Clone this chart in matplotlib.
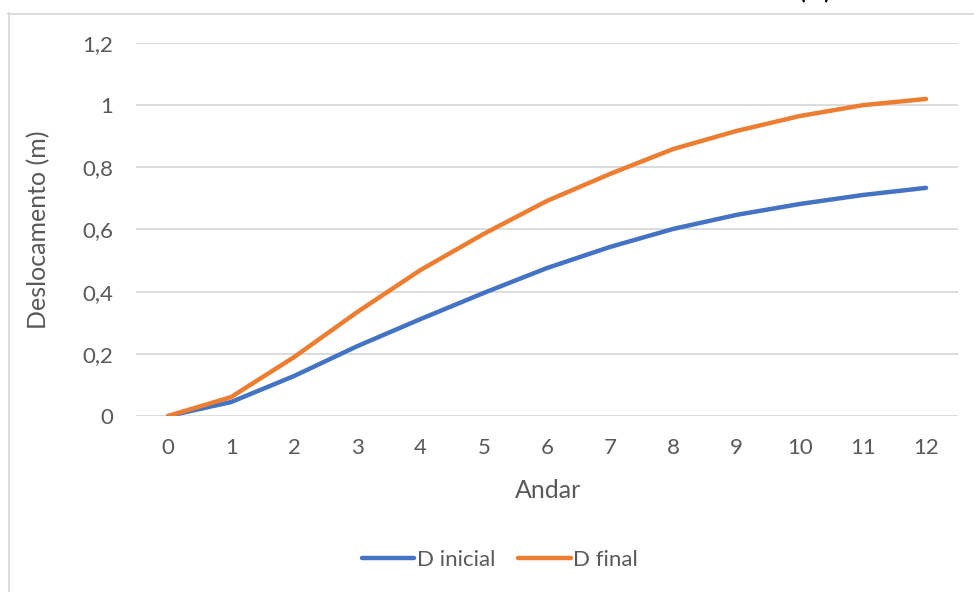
import matplotlib
matplotlib.use("Agg")
import matplotlib.pyplot as plt
from matplotlib.lines import Line2D
from matplotlib.ticker import FixedLocator, FuncFormatter

andar = list(range(13))
d_inicial = [0, 0.045, 0.129, 0.225, 0.312, 0.396, 0.476, 0.544, 0.602, 0.647, 0.682, 0.711, 0.734]
d_final = [0, 0.061, 0.19, 0.335, 0.47, 0.586, 0.692, 0.779, 0.859, 0.917, 0.965, 1.0, 1.02]
y_ticks = [0, 0.2, 0.4, 0.6, 0.8, 1.0, 1.2]

plt.rcParams['font.family'] = ['Lato', 'DejaVu Sans']
W, H = 974, 592
fig = plt.figure(figsize=(W / 100, H / 100), dpi=100)
fig.patch.set_facecolor('white')

x0, x1 = 136.4, 957.6
ytop, ybot = 43, 416
ax = fig.add_axes([x0 / W, 1 - ybot / H, (x1 - x0) / W, (ybot - ytop) / H])
ax.set_xlim(-0.5, 12.5)
ax.set_ylim(0, 1.2)

grid_c = '#d9d9d9'
text_c = '#595959'
for s in ax.spines.values():
    s.set_visible(False)
ax.yaxis.set_major_locator(FixedLocator(y_ticks))
ax.yaxis.set_major_formatter(FuncFormatter(lambda v, p: ('%g' % round(v, 1)).replace('.', ',')))
ax.set_xticks(andar)
ax.set_xticklabels([str(a) for a in andar])
ax.grid(axis='y', color=grid_c, linewidth=1.3)
ax.set_axisbelow(True)
ax.tick_params(axis='both', length=0, labelsize=16, labelcolor=text_c)
ax.tick_params(axis='y', pad=16.5)
ax.tick_params(axis='x', pad=15.5)

l1, = ax.plot(andar, d_inicial, color='#4472c4', linewidth=3.2, solid_capstyle='round',
              solid_joinstyle='round', label='D inicial')
l2, = ax.plot(andar, d_final, color='#ed7d31', linewidth=3.2, solid_capstyle='round',
              solid_joinstyle='round', label='D final')

fig.text(39 / W, 1 - 230 / H, 'Deslocamento (m)', rotation=90, ha='center', va='center',
         fontsize=18, color=text_c)
fig.text(548 / W, 1 - 490 / H, 'Andar', ha='center', va='center', fontsize=18, color=text_c)

leg = fig.legend(handles=[l1, l2], loc='center', bbox_to_anchor=(500 / W, 1 - 560 / H),
                 ncol=2, frameon=False, fontsize=16, handlelength=2.35, handletextpad=0.12,
                 columnspacing=1.05, labelcolor=text_c, borderpad=0)

# chart border (partially visible)
fig.add_artist(Line2D([8.5 / W, 8.5 / W], [1 - 13 / H, 0], transform=fig.transFigure,
                      color=grid_c, linewidth=1.3))
fig.add_artist(Line2D([8 / W, 1], [1 - 13.5 / H, 1 - 13.5 / H], transform=fig.transFigure,
                      color=grid_c, linewidth=1.3))
# title cut off at top (only the bottom of the parentheses is visible)
fig.text(830 / W, 1 + 2 / H, 'Deslocamento (m)', ha='right', va='baseline', fontsize=16,
         fontweight='bold', color='#000000')

fig.savefig('out.png', dpi=100, facecolor='white')
